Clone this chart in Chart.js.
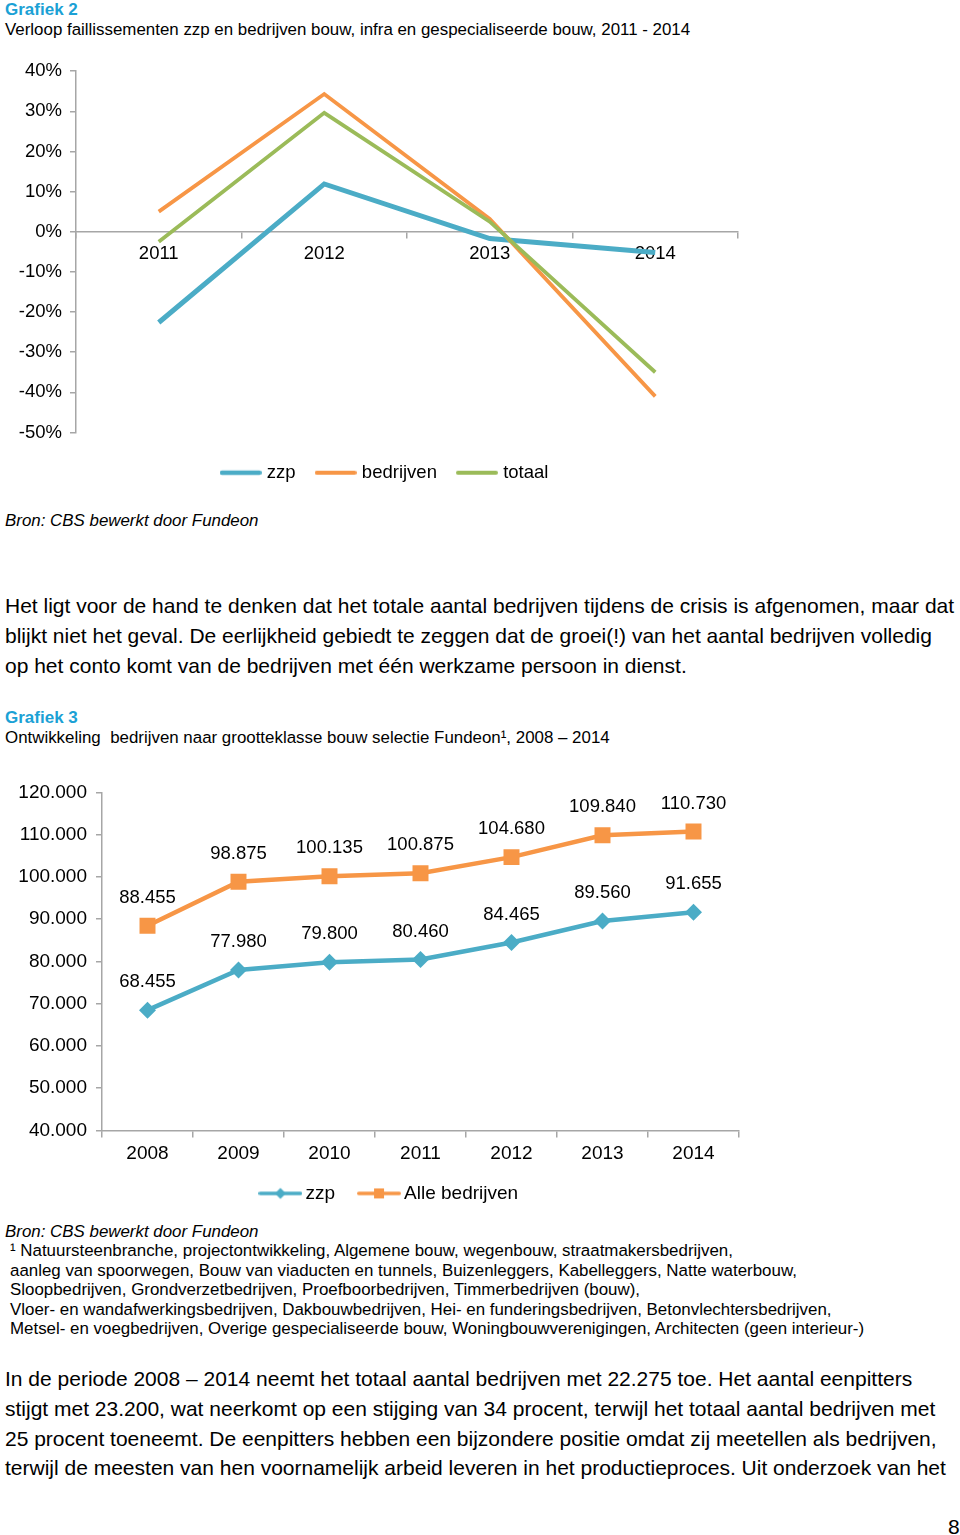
<!DOCTYPE html>
<html><head><meta charset="utf-8">
<script src="https://cdn.jsdelivr.net/npm/chart.js@4"></script>
<style>
html,body{margin:0;padding:0;background:#fff;}
body{width:960px;height:1535px;position:relative;overflow:hidden;font-family:'Liberation Sans',Arial,sans-serif;color:#000;}
.t{position:absolute;white-space:pre;left:5px;}
.h{color:#1BA1D5;font-weight:bold;font-size:17px;line-height:20px;}
.s{font-size:16.9px;line-height:20px;}
.p{font-size:21px;line-height:29.8px;}
.i{font-style:italic;font-size:16.9px;line-height:20px;}
.f{font-size:16.9px;line-height:19.5px;left:10px;}
#c1wrap{position:absolute;left:0;top:52px;width:760px;height:442px;}
#c2wrap{position:absolute;left:0;top:772px;width:760px;height:450px;}
</style></head><body>
<div class="t h" style="top:0px">Grafiek 2</div>
<div class="t s" style="top:20px">Verloop faillissementen zzp en bedrijven bouw, infra en gespecialiseerde bouw, 2011 - 2014</div>
<div id="c1wrap"><canvas id="c1"></canvas></div>
<div class="t i" style="top:511px">Bron: CBS bewerkt door Fundeon</div>
<div class="t p" style="top:591px">Het ligt voor de hand te denken dat het totale aantal bedrijven tijdens de crisis is afgenomen, maar dat
blijkt niet het geval. De eerlijkheid gebiedt te zeggen dat de groei(!) van het aantal bedrijven volledig
op het conto komt van de bedrijven met één werkzame persoon in dienst.</div>
<div class="t h" style="top:708px">Grafiek 3</div>
<div class="t s" style="top:728px">Ontwikkeling  bedrijven naar grootteklasse bouw selectie Fundeon¹, 2008 – 2014</div>
<div id="c2wrap"><canvas id="c2"></canvas></div>
<div class="t i" style="top:1222px">Bron: CBS bewerkt door Fundeon</div>
<div class="t f" style="top:1241px">¹ Natuursteenbranche, projectontwikkeling, Algemene bouw, wegenbouw, straatmakersbedrijven,
aanleg van spoorwegen, Bouw van viaducten en tunnels, Buizenleggers, Kabelleggers, Natte waterbouw,
Sloopbedrijven, Grondverzetbedrijven, Proefboorbedrijven, Timmerbedrijven (bouw),
Vloer- en wandafwerkingsbedrijven, Dakbouwbedrijven, Hei- en funderingsbedrijven, Betonvlechtersbedrijven,
Metsel- en voegbedrijven, Overige gespecialiseerde bouw, Woningbouwverenigingen, Architecten (geen interieur-)</div>
<div class="t p" style="top:1364px">In de periode 2008 – 2014 neemt het totaal aantal bedrijven met 22.275 toe. Het aantal eenpitters
stijgt met 23.200, wat neerkomt op een stijging van 34 procent, terwijl het totaal aantal bedrijven met
25 procent toeneemt. De eenpitters hebben een bijzondere positie omdat zij meetellen als bedrijven,
terwijl de meesten van hen voornamelijk arbeid leveren in het productieproces. Uit onderzoek van het</div>
<div class="t p" style="top:1512px;left:948px">8</div>
<script>
// ---- Data: Grafiek 2 ----
const years1 = ['2011', '2012', '2013', '2014'];
const zzp1 = [-22.6, 11.9, -1.7, -5.2];
const bedrijven1 = [5.0, 34.3, 3.2, -41.0];
const totaal1 = [-2.5, 29.6, 2.5, -35.0];
const names1 = ['zzp', 'bedrijven', 'totaal'];

// ---- Data: Grafiek 3 ----
const years2 = ['2008', '2009', '2010', '2011', '2012', '2013', '2014'];
const zzp2 = [68455, 77980, 79800, 80460, 84465, 89560, 91655];
const alle2 = [88455, 98875, 100135, 100875, 104680, 109840, 110730];
const names2 = ['zzp', 'Alle bedrijven'];

const FONT = "'Liberation Sans', Arial, sans-serif";
Chart.defaults.font.family = FONT;
Chart.defaults.color = '#000';

const BLUE = '#4BACC6', ORANGE = '#F79646', GREEN = '#9BBB59', AXIS = '#A6A6A6';

function fmt(v) { return String(v).replace(/\B(?=(\d{3})+(?!\d))/g, '.'); }

function sample(color, lw, w, marker) {
  const c = document.createElement('canvas');
  c.width = w; c.height = 20;
  const g = c.getContext('2d');
  g.strokeStyle = color; g.lineWidth = lw; g.lineCap = 'round';
  g.beginPath(); g.moveTo(lw / 2, 10); g.lineTo(w - lw / 2, 10); g.stroke();
  g.fillStyle = color;
  if (marker === 'diamond') {
    g.beginPath(); g.moveTo(w/2 - 5.5, 10); g.lineTo(w/2, 4.5); g.lineTo(w/2 + 5.5, 10); g.lineTo(w/2, 15.5); g.closePath(); g.fill();
  } else if (marker === 'square') {
    g.fillRect(w/2 - 5, 5, 10, 10);
  }
  return c;
}

function legendFrom(images) {
  return chart => chart.data.datasets.map((ds, i) => ({
    text: ds.label, pointStyle: images[i], fillStyle: 'rgba(0,0,0,0)',
    strokeStyle: 'rgba(0,0,0,0)', lineWidth: 0, hidden: false, datasetIndex: i, fontColor: '#000'
  }));
}

// nudges the legend box after layout (keeps the plot area as laid out by Chart.js)
const legendShift = {
  id: 'legendShift',
  afterLayout(chart, args, opts) {
    const l = chart.legend;
    if (!l || !opts) return;
    const dx = opts.dx || 0, dy = opts.dy || 0;
    l.left += dx; l.right += dx; l.top += dy; l.bottom += dy;
  }
};

const valueLabels = {
  id: 'valueLabels',
  afterDatasetsDraw(chart, args, opts) {
    if (!opts || !opts.enabled) return;
    const ctx = chart.ctx;
    ctx.save();
    ctx.font = opts.size + 'px ' + FONT;
    ctx.fillStyle = '#000'; ctx.textAlign = 'center'; ctx.textBaseline = 'middle';
    chart.data.datasets.forEach((ds, i) => {
      chart.getDatasetMeta(i).data.forEach((pt, j) => {
        ctx.fillText(fmt(ds.data[j]), pt.x, pt.y - opts.offset);
      });
    });
    ctx.restore();
  }
};

// ---- Chart 1 ----
const img1 = [sample(BLUE, 4.5, 42), sample(ORANGE, 4, 42), sample(GREEN, 4, 42)];
new Chart(document.getElementById('c1'), {
  type: 'line',
  data: {
    labels: years1,
    datasets: [
      { label: names1[0], data: zzp1, borderColor: BLUE, borderWidth: 5, pointRadius: 0, order: 3 },
      { label: names1[1], data: bedrijven1, borderColor: ORANGE, borderWidth: 3.8, pointRadius: 0, order: 2 },
      { label: names1[2], data: totaal1, borderColor: GREEN, borderWidth: 3.8, pointRadius: 0, order: 1 }
    ]
  },
  plugins: [legendShift],
  options: {
    responsive: true, maintainAspectRatio: false, animation: false,
    layout: { padding: { top: 0, left: 0, right: 22, bottom: 10 } },
    plugins: {
      tooltip: { enabled: false },
      legendShift: { dx: 17, dy: 8 },
      legend: {
        position: 'bottom',
        labels: { usePointStyle: true, pointStyleWidth: 34, padding: 23, font: { size: 18.5 }, color: '#000',
                  generateLabels: legendFrom(img1) }
      }
    },
    scales: {
      x: {
        position: { y: 0 },
        offset: true,
        grid: { drawOnChartArea: false, tickLength: 6, color: AXIS, offset: true, lineWidth: 1.5 },
        border: { color: AXIS, width: 1.5 },
        ticks: { padding: 5, font: { size: 18.5 }, color: '#000' }
      },
      y: {
        min: -50, max: 40,
        afterFit: s => { s.width = 76; },
        grid: { drawOnChartArea: false, tickLength: 6, color: AXIS, lineWidth: 1.5 },
        border: { color: AXIS, width: 1.5 },
        ticks: { stepSize: 10, padding: 8, font: { size: 18.5 }, color: '#000', callback: v => v + '%' }
      }
    }
  }
});

// ---- Chart 2 ----
const img2 = [sample(BLUE, 3.5, 44, 'diamond'), sample(ORANGE, 3.5, 44, 'square')];
new Chart(document.getElementById('c2'), {
  type: 'line',
  data: {
    labels: years2,
    datasets: [
      { label: names2[0], data: zzp2, borderColor: BLUE, backgroundColor: BLUE, borderWidth: 4.5,
        pointStyle: 'rectRot', pointRadius: 8.5, pointBorderWidth: 0, pointBackgroundColor: BLUE },
      { label: names2[1], data: alle2, borderColor: ORANGE, backgroundColor: ORANGE, borderWidth: 4.5,
        pointStyle: 'rect', pointRadius: 11.3, pointBorderWidth: 0, pointBackgroundColor: ORANGE }
    ]
  },
  plugins: [valueLabels, legendShift],
  options: {
    responsive: true, maintainAspectRatio: false, animation: false,
    layout: { padding: { top: 0, left: 0, right: 21, bottom: 0 } },
    plugins: {
      tooltip: { enabled: false },
      valueLabels: { enabled: true, offset: 28, size: 18.5 },
      legendShift: { dx: 22, dy: -9.1 },
      legend: {
        position: 'bottom',
        labels: { usePointStyle: true, pointStyleWidth: 31, padding: 28.6, font: { size: 19 }, color: '#000',
                  generateLabels: legendFrom(img2) }
      }
    },
    scales: {
      x: {
        offset: true,
        afterFit: s => { s.height = 34; },
        grid: { drawOnChartArea: false, tickLength: 7, color: AXIS, offset: true, lineWidth: 1.5 },
        border: { color: AXIS, width: 1.5 },
        ticks: { padding: 6.5, font: { size: 19, lineHeight: 1 }, color: '#000' }
      },
      y: {
        min: 40000, max: 120000,
        afterFit: s => { s.width = 102; },
        grid: { drawOnChartArea: false, tickLength: 6, color: AXIS, lineWidth: 1.5 },
        border: { color: AXIS, width: 1.5 },
        ticks: { stepSize: 10000, padding: 9, font: { size: 19 }, color: '#000', callback: v => fmt(v) }
      }
    }
  }
});
</script>
</body></html>
